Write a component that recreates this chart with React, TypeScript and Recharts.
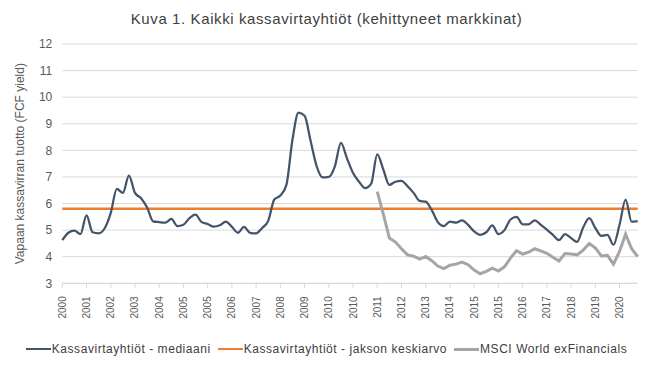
import { LineChart, Line, XAxis, YAxis, CartesianGrid } from 'recharts';

const title = 'Kuva 1. Kaikki kassavirtayhtiöt (kehittyneet markkinat)';
const yAxisTitle = 'Vapaan kassavirran tuotto (FCF  yield)';

// one label per tick, ticks every 4th point
const yearLabels = [
  '2000', '2001', '2002', '2003', '2004', '2005', '2005', '2006', '2007', '2008', '2009', '2010',
  '2010', '2011', '2012', '2013', '2014', '2015', '2015', '2016', '2017', '2018', '2019', '2020',
];

// FCF yield, median of cash flow companies (4 points per tick)
const medianYield = [
  4.62, 4.9, 4.98, 4.85, 5.55, 4.92, 4.88, 5.07,
  5.65, 6.55, 6.4, 7.05, 6.4, 6.2, 5.85, 5.33,
  5.3, 5.28, 5.42, 5.15, 5.2, 5.45, 5.58, 5.3,
  5.23, 5.13, 5.18, 5.32, 5.12, 4.9, 5.12, 4.9,
  4.88, 5.08, 5.35, 6.15, 6.3, 6.7, 8.4, 9.42,
  9.3, 8.35, 7.4, 6.98, 7.0, 7.4, 8.28, 7.7,
  7.15, 6.82, 6.58, 6.75, 7.85, 7.28, 6.7, 6.82,
  6.85, 6.65, 6.4, 6.1, 6.07, 5.75, 5.3, 5.15,
  5.32, 5.28, 5.37, 5.2, 4.95, 4.82, 4.92, 5.18,
  4.85, 5.0, 5.4, 5.5, 5.22, 5.22, 5.37, 5.2,
  5.02, 4.82, 4.62, 4.85, 4.7, 4.56, 5.1, 5.45,
  5.08, 4.78, 4.82, 4.45, 5.2, 6.15, 5.32, 5.34,
];

// MSCI World exFinancials, starts 2011
const msciYield: (number | null)[] = [
  ...Array(52).fill(null),
  6.45, 5.6, 4.7, 4.55, 4.3, 4.07, 4.02, 3.91,
  4.01, 3.85, 3.65, 3.55, 3.68, 3.72, 3.8, 3.7,
  3.5, 3.36, 3.45, 3.57, 3.46, 3.62, 3.95, 4.23,
  4.1, 4.17, 4.3, 4.22, 4.13, 3.98, 3.84, 4.12,
  4.1, 4.07, 4.25, 4.5, 4.33, 4.03, 4.05, 3.72,
  4.2, 4.85, 4.3, 4.0,
];

const periodAverage = 5.8;

const yTicks = [3, 4, 5, 6, 7, 8, 9, 10, 11, 12];

const series = [
  { key: 'median', name: 'Kassavirtayhtiöt - mediaani', color: '#44546a', width: 2.25 },
  { key: 'avg', name: 'Kassavirtayhtiöt - jakson keskiarvo', color: '#ed7d31', width: 2.5 },
  { key: 'msci', name: 'MSCI World exFinancials', color: '#a5a5a5', width: 3 },
];

const data = medianYield.map((v, i) => ({
  i,
  median: v,
  avg: periodAverage,
  msci: msciYield[i],
}));

const font = '"Liberation Sans", Arial, sans-serif';

function YearTick({ x, y, payload }: any) {
  const ty = y + 6;
  return (
    <text
      x={x}
      y={ty}
      dy="0.35em"
      transform={`rotate(-90, ${x}, ${ty})`}
      textAnchor="end"
      fill="#595959"
      fontSize={10}
      fontFamily={font}
    >
      {yearLabels[payload.value / 4]}
    </text>
  );
}

function YTitle({ viewBox }: any) {
  const cx = 20;
  const cy = viewBox.y + viewBox.height / 2;
  return (
    <text
      x={cx}
      y={cy}
      dy="0.35em"
      transform={`rotate(-90, ${cx}, ${cy})`}
      textAnchor="middle"
      fill="#595959"
      fontSize={12}
      fontFamily={font}
    >
      {yAxisTitle}
    </text>
  );
}

export default function App() {
  return (
    <div style={{ position: 'absolute', left: 0, top: 0, width: 653, height: 381, background: '#fff', fontFamily: font }}>
      <div
        style={{
          position: 'absolute',
          top: 9,
          left: 0,
          width: 653,
          textAlign: 'center',
          fontSize: 15,
          letterSpacing: 0.6,
          lineHeight: '20px',
          color: '#404040',
        }}
      >
        {title}
      </div>
      <LineChart width={653} height={381} data={data} margin={{ top: 44, right: 15.3, left: 0, bottom: 57.7 }}>
        <CartesianGrid vertical={false} stroke="#d9d9d9" />
        <XAxis
          dataKey="i"
          type="category"
          interval={3}
          height={40}
          tickSize={5}
          tickLine={{ stroke: '#d9d9d9' }}
          axisLine={{ stroke: '#d9d9d9' }}
          tick={<YearTick />}
        />
        <YAxis
          width={62.3}
          domain={[3, 12]}
          ticks={yTicks}
          tickSize={0}
          tickMargin={10}
          axisLine={false}
          tickLine={false}
          tick={{ fill: '#595959', fontSize: 12, fontFamily: font }}
          label={{ content: <YTitle /> }}
        />
        <Line dataKey="avg" type="linear" stroke="#ed7d31" strokeWidth={2.5} dot={false} isAnimationActive={false} />
        <Line dataKey="msci" type="linear" stroke="#a5a5a5" strokeWidth={3} dot={false} isAnimationActive={false} />
        <Line dataKey="median" type="monotone" stroke="#44546a" strokeWidth={2.25} dot={false} isAnimationActive={false} />
      </LineChart>
      <div
        style={{
          position: 'absolute',
          top: 342,
          left: 0,
          width: 653,
          display: 'flex',
          justifyContent: 'center',
          alignItems: 'center',
          fontSize: 12,
          letterSpacing: 0.55,
          color: '#404040',
          gap: 7,
        }}
      >
        {series.map((s) => (
          <div key={s.key} style={{ display: 'flex', alignItems: 'center' }}>
            <span style={{ display: 'inline-block', width: 25, height: s.width, background: s.color }} />
            <span style={{ marginLeft: 1 }}>{s.name}</span>
          </div>
        ))}
      </div>
    </div>
  );
}
